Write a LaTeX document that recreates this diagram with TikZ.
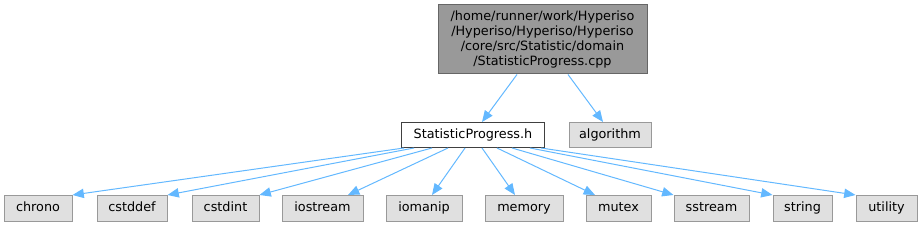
\documentclass[tikz,border=0pt]{standalone}
\usepackage{fontspec}
\setmainfont{DejaVu Sans}
\usetikzlibrary{arrows.meta}
\definecolor{edgecol}{HTML}{63B8FF}
\definecolor{topfill}{HTML}{999999}
\definecolor{topdraw}{HTML}{666666}
\definecolor{leaffill}{HTML}{E0E0E0}
\definecolor{leafdraw}{HTML}{999999}
\definecolor{middraw}{HTML}{404040}
\tikzset{
  box/.style={rectangle, inner sep=0pt, font=\fontsize{9.6}{11.25}\selectfont, text=black, line width=0.75pt},
  topbox/.style={box, fill=topfill, draw=topdraw, minimum width=209*0.75pt, minimum height=69*0.75pt, align=center},
  onel/.style={text height=7.2pt, text depth=2.1pt},
  midbox/.style={box, onel, fill=white, draw=middraw, minimum height=25*0.75pt},
  leaf/.style={box, onel, fill=leaffill, draw=leafdraw, minimum height=26*0.75pt},
  dep/.style={draw=edgecol, line width=0.75pt, -{Triangle[length=8.5pt,width=7pt,fill=edgecol]}},
}
\begin{document}
\begin{tikzpicture}[x=0.75pt,y=-0.75pt]
\useasboundingbox (0,0) rectangle (922,227);
\node[topbox] (top) at (542.5,39.5) {/home/runner/work/Hyperiso\\/Hyperiso/Hyperiso/Hyperiso\\/core/src/Statistic/domain\\/StatisticProgress.cpp};
\node[midbox, minimum width=143*0.75pt] (sp) at (473,135) {StatisticProgress.h};
\node[leaf, minimum width=82*0.75pt, minimum height=25*0.75pt] (alg) at (610,135) {algorithm};
\node[leaf, minimum width=68*0.75pt] (chrono) at (38,208.5) {chrono};
\node[leaf, minimum width=70*0.75pt] (cstddef) at (132,208.5) {cstddef};
\node[leaf, minimum width=67*0.75pt] (cstdint) at (225.5,208.5) {cstdint};
\node[leaf, minimum width=81*0.75pt] (iostream) at (322.5,208.5) {iostream};
\node[leaf, minimum width=76*0.75pt] (iomanip) at (424,208.5) {iomanip};
\node[leaf, minimum width=78*0.75pt] (memory) at (524,208.5) {memory};
\node[leaf, minimum width=65*0.75pt] (mutex) at (618.5,208.5) {mutex};
\node[leaf, minimum width=75*0.75pt] (sstream) at (711.5,208.5) {sstream};
\node[leaf, minimum width=59*0.75pt] (string) at (802.5,208.5) {string};
\node[leaf, minimum width=61*0.75pt] (utility) at (886.5,208.5) {utility};

\draw[dep] (top.south -| 517,0) -- (sp.north -| 482,0);
\draw[dep] (top.south -| 568,0) -- (alg.north -| 603,0);

\draw[dep] (sp.south -| 404,0) -- (chrono.north east);
\draw[dep] (sp.south -| 414,0) -- (cstddef.north east);
\draw[dep] (sp.south -| 432,0) -- (cstdint.north east);
\draw[dep] (sp.south -| 448,0) -- (iostream.north -| 348,0);
\draw[dep] (sp.south -| 465,0) -- (iomanip.north -| 432,0);
\draw[dep] (sp.south -| 482,0) -- (memory.north -| 515,0);
\draw[dep] (sp.south -| 497,0) -- (mutex.north -| 595,0);
\draw[dep] (sp.south -| 512,0) -- (sstream.north west);
\draw[dep] (sp.south -| 530,0) -- (string.north west);
\draw[dep] (sp.south -| 541,0) -- (utility.north west);
\end{tikzpicture}
\end{document}
